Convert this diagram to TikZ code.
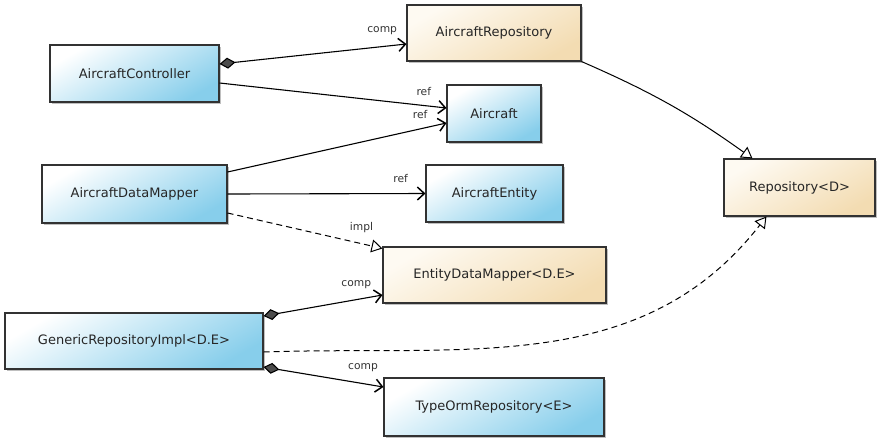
\documentclass[tikz,border=0pt]{standalone}
\usepackage{fontspec}
\setsansfont{DejaVu Sans}
\usetikzlibrary{arrows.meta, shadows}

\definecolor{bluefill}{RGB}{135,206,235}
\definecolor{beigefill}{RGB}{243,220,178}
\definecolor{beigelight}{RGB}{254,250,242}
\definecolor{boxline}{RGB}{50,50,50}

\begin{document}
\begin{tikzpicture}[x=1pt, y=1pt,
    box/.style={draw=boxline, line width=1.1pt, minimum height=57pt, inner sep=0pt,
        text=black!85, font=\sffamily\fontsize{13}{15}\selectfont,
        drop shadow={shadow xshift=1.5pt, shadow yshift=-1.5pt, opacity=0.25, fill=black}},
    bluecls/.style={box, top color=white, bottom color=bluefill, shading angle=30},
    beigecls/.style={box, top color=beigelight, bottom color=beigefill, shading angle=30},
    lbl/.style={font=\sffamily\fontsize{10.7}{12}\selectfont, inner sep=1pt, text=black!80},
    assoc/.style={line width=1.1pt, -{Straight Barb[length=7pt, width=13pt, line width=1.5pt]}},
    compo/.style={assoc, {Diamond[length=16pt, width=11pt, fill=black!70]}-{Straight Barb[length=7pt, width=13pt, line width=1.5pt]}},
    gener/.style={line width=1pt, -{Triangle[open, fill=white, length=11pt, width=13pt]}},
    realize/.style={gener, dash pattern=on 6pt off 4pt}
]

    \useasboundingbox (0,0) rectangle (880,-440);

    % ==========================================
    % CLASSI
    % ==========================================

    \node[bluecls, minimum width=169pt] (ctrl) at (134.5,-73.5) {AircraftController};
    \node[beigecls, minimum width=174pt, minimum height=56pt] (arepo) at (494,-33) {AircraftRepository};
    \node[bluecls, minimum width=94pt] (aircraft) at (494,-113.5) {Aircraft};
    \node[bluecls, minimum width=185pt, minimum height=58pt] (mapper) at (134.5,-194) {AircraftDataMapper};
    \node[bluecls, minimum width=137pt] (entity) at (494.5,-193.5) {AircraftEntity};
    \node[beigecls, minimum width=151pt] (repo) at (799.5,-187.5) {Repository<D>};
    \node[beigecls, minimum width=223pt, minimum height=56pt] (edm) at (494.5,-275) {EntityDataMapper<D.E>};
    \node[bluecls, minimum width=258pt, minimum height=56pt] (generic) at (134,-341) {GenericRepositoryImpl<D.E>};
    \node[bluecls, minimum width=220pt, minimum height=58pt] (typeorm) at (494,-407) {TypeOrmRepository<E>};

    % ==========================================
    % RELAZIONI
    % ==========================================

    % AircraftController
    \draw[compo] ([yshift=9.5pt]ctrl.east) -- ([yshift=-11pt]arepo.west)
        node[lbl, pos=0.87, above=10pt] {comp};
    \draw[assoc] ([yshift=-9.5pt]ctrl.east) -- ([yshift=5.5pt]aircraft.west)
        node[lbl, pos=0.9, above=8.5pt] {ref};

    % AircraftDataMapper
    \draw[assoc] ([yshift=22pt]mapper.east) -- ([yshift=-9.5pt]aircraft.west)
        node[lbl, pos=0.88, above=8.5pt] {ref};
    \draw[assoc] (mapper.east) -- (entity.west)
        node[lbl, pos=0.875, above=9.5pt] {ref};
    \draw[realize] ([yshift=-19pt]mapper.east) -- ([yshift=-2pt]edm.north west)
        node[lbl, pos=0.865, above=9pt] {impl};

    % GenericRepositoryImpl
    \draw[compo] ([yshift=25pt]generic.east) -- ([yshift=-20pt]edm.west)
        node[lbl, pos=0.78, above=9.5pt] {comp};
    \draw[compo] ([yshift=-26pt]generic.east) -- ([yshift=20pt]typeorm.west)
        node[lbl, pos=0.83, above=10pt] {comp};
    \draw[realize] ([yshift=-11pt]generic.east) to[out=2, in=-128]
        ([xshift=43pt]repo.south west)
        node[lbl, pos=1, left=15pt, yshift=-4pt] {impl};

    % AircraftRepository
    \draw[gener] (arepo.south east) to[bend left=6] ([xshift=29pt]repo.north west)
        node[lbl, pos=1, above=20pt, xshift=-12pt] {ext};

\end{tikzpicture}
\end{document}
